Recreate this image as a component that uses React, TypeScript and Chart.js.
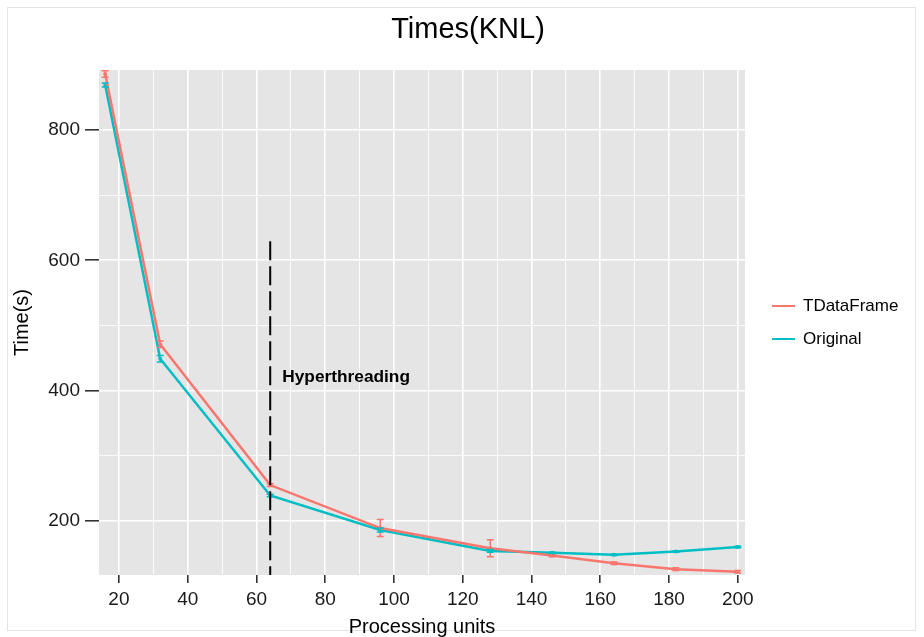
import React, { useEffect, useRef } from "react";
import { Chart, registerables } from "chart.js";

Chart.register(...registerables);

// ---- data ----
const processingUnits = [16, 32, 64, 96, 128, 146, 164, 182, 200];
const tdataframeTimes = [886, 471, 255, 189, 158, 147, 135, 126, 122];
const tdataframeErrors = [5, 5, 2, 13, 13, 2, 2, 2, 2];
const originalTimes = [869, 449, 239, 186, 154, 151, 148, 153, 160];
const originalErrors = [3, 5, 2, 3, 2, 1, 1, 1, 1];

const seriesNames = ["TDataFrame", "Original"];
const seriesColors = ["#F8766D", "#00BFC4"];

const xMajorTicks = [20, 40, 60, 80, 100, 120, 140, 160, 180, 200];
const xMinorTicks = [30, 50, 70, 90, 110, 130, 150, 170, 190];
const yMajorTicks = [200, 400, 600, 800];
const yMinorTicks = [300, 500, 700];

const xRange = [14.2, 202.1];
const yRange = [117, 892];

const chartTitle = "Times(KNL)";
const hyperthreadingX = 64;
const hyperthreadingTop = 629;
const hyperthreadingLabel = "Hyperthreading";
const hyperthreadingLabelAt = [67.5, 421];

const FONT = "'Liberation Sans', Arial, Helvetica, sans-serif";

const panelPlugin = {
  id: "panelBg",
  beforeDraw(chart: any) {
    const { ctx, chartArea: a } = chart;
    ctx.save();
    ctx.fillStyle = "#E5E5E5";
    ctx.fillRect(a.left, a.top, a.right - a.left, a.bottom - a.top);
    ctx.restore();
  },
};

const titlePlugin = {
  id: "pageTitle",
  afterDraw(chart: any) {
    const { ctx } = chart;
    ctx.save();
    ctx.fillStyle = "#000";
    ctx.font = `29px ${FONT}`;
    ctx.textAlign = "center";
    ctx.textBaseline = "middle";
    ctx.fillText(chartTitle, chart.width / 2 + 6, 30);
    ctx.restore();
  },
};

const errorBarPlugin = {
  id: "errorBars",
  afterDatasetsDraw(chart: any) {
    const { ctx } = chart;
    const x = chart.scales.x;
    const y = chart.scales.y;
    const sets = [
      { vals: tdataframeTimes, errs: tdataframeErrors, color: seriesColors[0] },
      { vals: originalTimes, errs: originalErrors, color: seriesColors[1] },
    ];
    ctx.save();
    sets.forEach((s) => {
      ctx.strokeStyle = s.color;
      ctx.lineWidth = 1.5;
      processingUnits.forEach((u, i) => {
        const px = x.getPixelForValue(u);
        const top = y.getPixelForValue(s.vals[i] + s.errs[i]);
        const bot = y.getPixelForValue(s.vals[i] - s.errs[i]);
        ctx.beginPath();
        ctx.moveTo(px, top);
        ctx.lineTo(px, bot);
        ctx.moveTo(px - 3.5, top);
        ctx.lineTo(px + 3.5, top);
        ctx.moveTo(px - 3.5, bot);
        ctx.lineTo(px + 3.5, bot);
        ctx.stroke();
      });
    });
    ctx.restore();
  },
};

const annotationPlugin = {
  id: "hyperthreading",
  afterDatasetsDraw(chart: any) {
    const { ctx } = chart;
    const x = chart.scales.x;
    const y = chart.scales.y;
    const px = x.getPixelForValue(hyperthreadingX);
    ctx.save();
    ctx.strokeStyle = "#000";
    ctx.lineWidth = 2;
    ctx.setLineDash([19, 6]);
    ctx.beginPath();
    ctx.moveTo(px, y.getPixelForValue(hyperthreadingTop));
    ctx.lineTo(px, y.getPixelForValue(yRange[0]));
    ctx.stroke();
    ctx.setLineDash([]);
    ctx.fillStyle = "#000";
    ctx.font = `bold 17.3px ${FONT}`;
    ctx.textAlign = "left";
    ctx.textBaseline = "middle";
    ctx.fillText(
      hyperthreadingLabel,
      x.getPixelForValue(hyperthreadingLabelAt[0]),
      y.getPixelForValue(hyperthreadingLabelAt[1])
    );
    ctx.restore();
  },
};

const legendPlugin = {
  id: "customLegend",
  afterDraw(chart: any) {
    const { ctx, chartArea: a } = chart;
    const cy = (a.top + a.bottom) / 2;
    const x0 = a.right + 27;
    ctx.save();
    ctx.font = `17px ${FONT}`;
    ctx.textAlign = "left";
    ctx.textBaseline = "middle";
    seriesNames.forEach((name, i) => {
      const yy = cy - 16.5 + i * 33;
      ctx.strokeStyle = seriesColors[i];
      ctx.lineWidth = 2;
      ctx.beginPath();
      ctx.moveTo(x0, yy);
      ctx.lineTo(x0 + 23, yy);
      ctx.stroke();
      ctx.fillStyle = "#000";
      ctx.fillText(name, x0 + 31, yy);
    });
    ctx.restore();
  },
};

export default function App() {
  const ref = useRef<HTMLCanvasElement | null>(null);

  useEffect(() => {
    if (!ref.current) return;
    const xMajor = new Set(xMajorTicks);
    const yMajor = new Set(yMajorTicks);
    const chart = new Chart(ref.current, {
      type: "line",
      data: {
        datasets: [
          {
            label: seriesNames[0],
            data: processingUnits.map((u, i) => ({ x: u, y: tdataframeTimes[i] })),
            borderColor: seriesColors[0],
            backgroundColor: seriesColors[0],
            borderWidth: 2.5,
            pointRadius: 2,
            pointBorderWidth: 0,
            tension: 0,
          },
          {
            label: seriesNames[1],
            data: processingUnits.map((u, i) => ({ x: u, y: originalTimes[i] })),
            borderColor: seriesColors[1],
            backgroundColor: seriesColors[1],
            borderWidth: 2.5,
            pointRadius: 2,
            pointBorderWidth: 0,
            tension: 0,
          },
        ],
      },
      options: {
        animation: false,
        responsive: false,
        maintainAspectRatio: false,
        layout: { padding: { left: 0, right: 179, top: 70, bottom: 0 } },
        plugins: {
          legend: { display: false },
          tooltip: { enabled: false },
          title: { display: false },
        },
        scales: {
          x: {
            type: "linear",
            min: xRange[0],
            max: xRange[1],
            afterBuildTicks: (s: any) => {
              s.ticks = [...xMajorTicks, ...xMinorTicks]
                .sort((a, b) => a - b)
                .map((v) => ({ value: v }));
            },
            afterFit: (s: any) => {
              s.height = 62;
            },
            border: { display: false },
            grid: {
              color: "#FFFFFF",
              lineWidth: (c: any) => (c.tick && xMajor.has(c.tick.value) ? 1.6 : 0.8),
              tickColor: (c: any) =>
                c.tick && xMajor.has(c.tick.value) ? "#333333" : "rgba(0,0,0,0)",
              tickLength: 8,
              tickWidth: 1.6,
            },
            ticks: {
              autoSkip: false,
              maxRotation: 0,
              padding: 5,
              color: "#1a1a1a",
              font: { family: FONT, size: 19 },
              callback: (v: any) => (xMajor.has(Number(v)) ? String(v) : ""),
            },
            title: {
              display: true,
              text: "Processing units",
              color: "#000",
              font: { family: FONT, size: 20, lineHeight: 1 },
              padding: 0,
            },
          },
          y: {
            type: "linear",
            min: yRange[0],
            max: yRange[1],
            afterBuildTicks: (s: any) => {
              s.ticks = [...yMajorTicks, ...yMinorTicks]
                .sort((a, b) => a - b)
                .map((v) => ({ value: v }));
            },
            afterFit: (s: any) => {
              s.width = 99;
            },
            border: { display: false },
            grid: {
              color: "#FFFFFF",
              lineWidth: (c: any) => (c.tick && yMajor.has(c.tick.value) ? 1.6 : 0.8),
              tickColor: (c: any) =>
                c.tick && yMajor.has(c.tick.value) ? "#333333" : "rgba(0,0,0,0)",
              tickLength: 14,
              tickWidth: 1.6,
            },
            ticks: {
              autoSkip: false,
              padding: 5,
              color: "#1a1a1a",
              font: { family: FONT, size: 19 },
              callback: (v: any) => (yMajor.has(Number(v)) ? String(v) : ""),
            },
            title: {
              display: true,
              text: "Time(s)",
              color: "#000",
              font: { family: FONT, size: 20 },
              padding: { top: 10, bottom: 0 },
            },
          },
        },
      } as any,
      plugins: [panelPlugin, errorBarPlugin, annotationPlugin, legendPlugin, titlePlugin],
    });
    return () => chart.destroy();
  }, []);

  return (
    <div
      style={{
        position: "fixed",
        left: 0,
        top: 0,
        width: 924,
        height: 637,
        background: "#fff",
        overflow: "hidden",
      }}
    >
      <div
        style={{
          position: "absolute",
          left: 7,
          top: 7,
          width: 909,
          height: 624,
          border: "1px solid #e3e3e3",
          boxSizing: "border-box",
        }}
      />
      <canvas
        ref={ref}
        width={924}
        height={637}
        style={{ position: "absolute", left: 0, top: 0, width: 924, height: 637 }}
      />
    </div>
  );
}
